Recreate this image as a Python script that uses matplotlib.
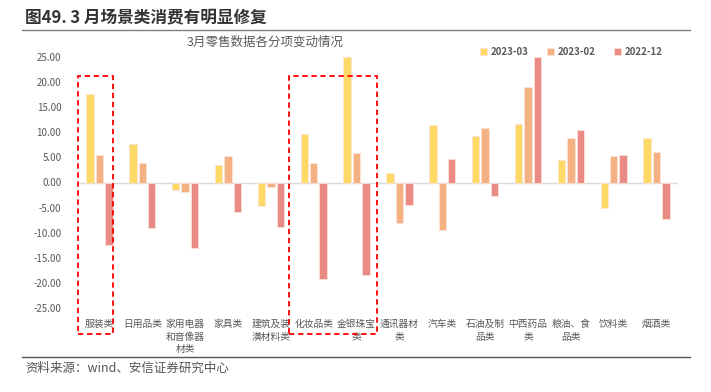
import matplotlib
matplotlib.use("Agg")
import matplotlib.pyplot as plt
import matplotlib.patches as patches
import numpy as np

plt.rcParams['font.family'] = ['Noto Sans CJK SC', 'DejaVu Sans']
plt.rcParams['axes.unicode_minus'] = False

categories = ["服装类", "日用品类", "家用电器\n和音像器\n材类", "家具类", "建筑及装\n潢材料类",
              "化妆品类", "金银珠宝\n类", "通讯器材\n类", "汽车类", "石油及制\n品类",
              "中西药品\n类", "粮油、食\n品类", "饮料类", "烟酒类"]
series_names = ["2023-03", "2023-02", "2022-12"]
v_2023_03 = [17.7, 7.7, -1.4, 3.4, -4.6, 9.6, 25.0, 1.9, 11.4, 9.2, 11.7, 4.4, -5.0, 8.9]
v_2023_02 = [5.4, 3.9, -1.9, 5.2, -0.9, 3.8, 5.8, -8.1, -9.4, 10.8, 19.1, 8.9, 5.2, 6.1]
v_2022_12 = [-12.5, -9.1, -13.0, -5.8, -8.8, -19.2, -18.4, -4.4, 4.6, -2.7, 25.0, 10.5, 5.5, -7.2]
colors = ["#FFD966", "#F4B183", "#EA8A84"]
yticks = [25, 20, 15, 10, 5, 0, -5, -10, -15, -20, -25]

W, H = 711, 392
fig = plt.figure(figsize=(W / 100, H / 100), dpi=100)
ax = fig.add_axes([78 / W, 1 - 308 / H, 600 / W, 251 / H])

x = np.arange(len(categories))
offsets = [-0.22, 0.0, 0.22]
for vals, name, c, off in zip([v_2023_03, v_2023_02, v_2022_12], series_names, colors, offsets):
    ax.bar(x + off, vals, width=0.175, color=c, edgecolor="#FBE3D6", linewidth=0.6,
           label=name, zorder=3, clip_on=False)

ax.axhline(0, color="#D9D9D9", linewidth=1, zorder=2)
ax.set_xlim(-0.5, len(categories) - 0.5)
ax.set_ylim(-25, 25)
ax.set_yticks(yticks)
ax.set_yticklabels([f"{t:.2f}" for t in yticks], fontsize=7, color="#595959")
ax.set_xticks(x)
ax.set_xticklabels(categories, fontsize=7, color="#595959", linespacing=1.3, va="top")
ax.tick_params(axis="both", length=0)
ax.tick_params(axis="x", pad=8)
ax.tick_params(axis="y", pad=12)
for s in ax.spines.values():
    s.set_visible(False)

ax.legend(loc="upper left", bbox_to_anchor=(471 / W, 1 - 38 / H), bbox_transform=fig.transFigure,
          ncol=3, frameon=False, prop={"size": 7, "weight": "bold"}, handlelength=0.7,
          handleheight=0.7, columnspacing=1.9, handletextpad=0.4, labelcolor="#595959")

# title, subtitle, source
fig.text(25 / W, 1 - 17 / H, "图49. 3 月场景类消费有明显修复", fontsize=12, fontweight="bold",
         color="#333333", va="center", ha="left")
fig.add_artist(plt.Line2D([22 / W, 690 / W], [1 - 30 / H, 1 - 30 / H], color="#808080", linewidth=1))
fig.text(265 / W, 1 - 42 / H, "3月零售数据各分项变动情况", fontsize=9, color="#595959",
         va="center", ha="center")
fig.add_artist(plt.Line2D([22 / W, 690 / W], [1 - 357 / H, 1 - 357 / H], color="#555555", linewidth=1))
fig.text(25 / W, 1 - 368 / H, "资料来源：wind、安信证券研究中心", fontsize=9, color="#555555",
         style="italic", va="center", ha="left")

# red dashed highlight boxes
for x0, x1 in [(78, 113), (289, 377)]:
    rect = patches.Rectangle((x0 / W, 1 - 334 / H), (x1 - x0) / W, (334 - 76) / H,
                             transform=fig.transFigure, fill=False, edgecolor="#FF0000",
                             linestyle=(0, (3, 2)), linewidth=1.3)
    fig.add_artist(rect)

fig.savefig("out.png", dpi=100)
